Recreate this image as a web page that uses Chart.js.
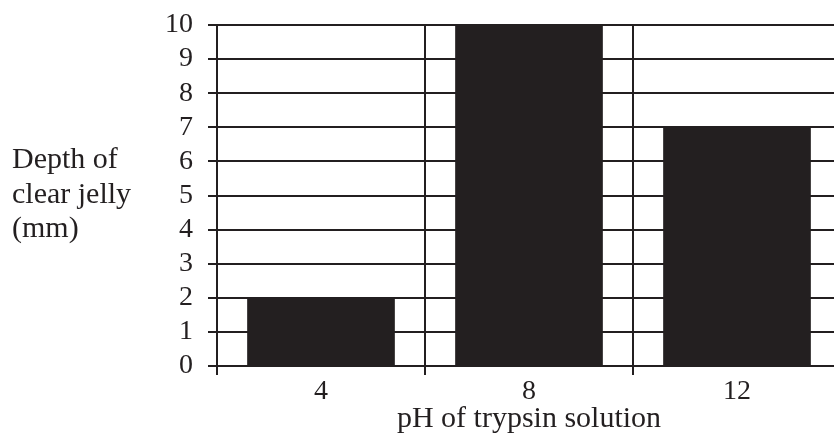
<!DOCTYPE html>
<html>
<head>
<meta charset="utf-8">
<script src="https://cdn.jsdelivr.net/npm/chart.js@4.4.1/dist/chart.umd.min.js"></script>
<style>
  html, body { margin: 0; padding: 0; background: #fff; overflow: hidden; }
  #wrap { width: 841px; height: 443px; position: relative; }
</style>
</head>
<body>
<div id="wrap"><canvas id="jelly-chart"></canvas></div>
<script>
// pH ごとの透明ゼリーの深さ
const phLabels = ["4", "8", "12"];
const jellyDepth = [2, 10, 7];
const yTitleLines = ["Depth of", "clear jelly", "(mm)"];
const xTitle = "pH of trypsin solution";

const INK = "#231f20";
const SERIF = "'Liberation Serif', 'Times New Roman', serif";

// 縦軸タイトルは横書きの3行なので自前で描く
const yTitlePlugin = {
  id: "yTitle",
  afterDraw(chart) {
    const ctx = chart.ctx;
    const y5 = chart.scales.y.getPixelForValue(5);
    ctx.save();
    ctx.font = "30px " + SERIF;
    ctx.fillStyle = INK;
    ctx.textAlign = "left";
    ctx.textBaseline = "alphabetic";
    yTitleLines.forEach((line, i) => {
      ctx.fillText(line, 12, y5 + 7 + (i - 1) * 34.5);
    });
    ctx.restore();
  },
};

new Chart(document.getElementById("jelly-chart"), {
  type: "bar",
  data: {
    labels: phLabels,
    datasets: [
      {
        data: jellyDepth,
        backgroundColor: INK,
        borderWidth: 0,
        categoryPercentage: 1,
        barPercentage: 0.71,
      },
    ],
  },
  options: {
    responsive: true,
    maintainAspectRatio: false,
    animation: false,
    layout: { padding: { top: 25, left: 0, right: 0, bottom: 0 } },
    plugins: {
      legend: { display: false },
      tooltip: { enabled: false },
    },
    scales: {
      x: {
        grid: { offset: true, color: INK, lineWidth: 2, tickLength: 9 },
        border: { color: INK, width: 2 },
        ticks: { color: INK, font: { family: SERIF, size: 28 }, padding: 0 },
        title: {
          display: true,
          text: xTitle,
          color: INK,
          font: { family: SERIF, size: 30 },
          padding: { top: 0, bottom: 6 },
        },
        afterFit: (s) => { s.height = 77; },
      },
      y: {
        min: 0,
        max: 10,
        grid: { color: INK, lineWidth: 2, tickLength: 9 },
        border: { color: INK, width: 2 },
        ticks: {
          stepSize: 1,
          autoSkip: false,
          color: INK,
          font: { family: SERIF, size: 28 },
          padding: 15,
        },
        // ラベルのはみ出し分の余白は要らない
        afterFit: (s) => {
          s.width = 217;
          s.paddingTop = 0;
          s.paddingBottom = 0;
        },
      },
    },
  },
  plugins: [yTitlePlugin],
});
</script>
</body>
</html>
